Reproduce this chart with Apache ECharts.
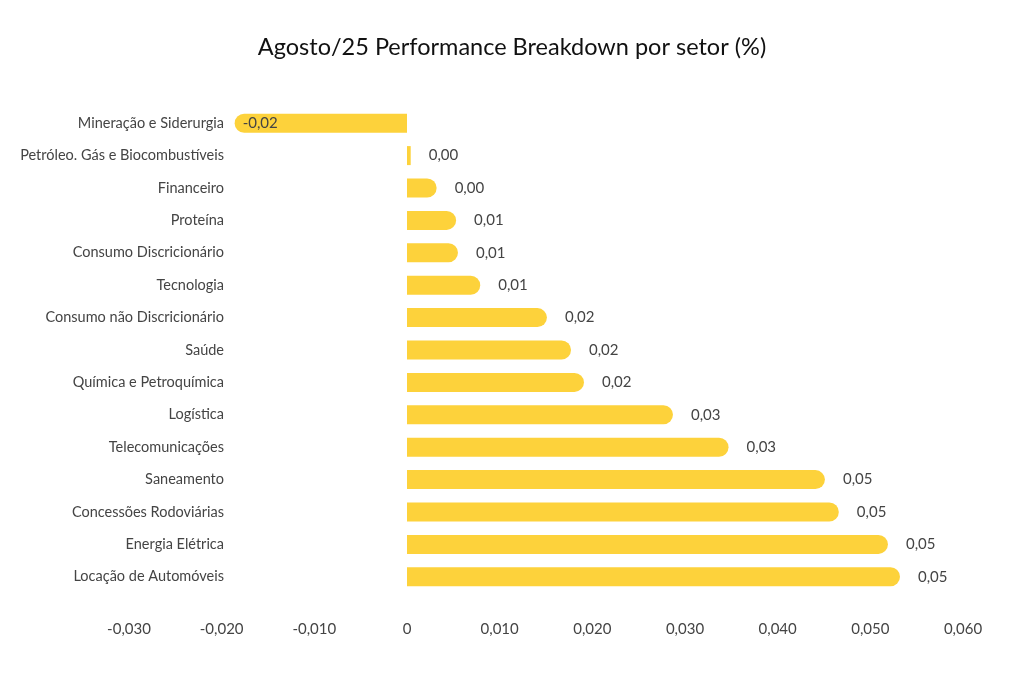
<!DOCTYPE html>
<html>
<head>
<meta charset="utf-8">
<script src="https://cdn.jsdelivr.net/npm/echarts@6/dist/echarts.min.js"></script>
<style>html,body{margin:0;padding:0;background:#fff;}#c{width:1024px;height:686px;}</style>
</head>
<body>
<div id="c"></div>
<script>
const categories = [
  "Mineração e Siderurgia",
  "Petróleo. Gás e Biocombustíveis",
  "Financeiro",
  "Proteína",
  "Consumo Discricionário",
  "Tecnologia",
  "Consumo não Discricionário",
  "Saúde",
  "Química e Petroquímica",
  "Logística",
  "Telecomunicações",
  "Saneamento",
  "Concessões Rodoviárias",
  "Energia Elétrica",
  "Locação de Automóveis"
];
const values = [-0.0186, 0.0004, 0.0032, 0.0053, 0.0055, 0.0079, 0.0151, 0.0177, 0.0191, 0.0287, 0.0347, 0.0451, 0.0466, 0.0519, 0.0532];
const axisMin = -0.03, axisMax = 0.06, axisStep = 0.01;
const titleText = "Agosto/25 Performance Breakdown por setor (%)";

const FONT = "Lato";
const fmt2 = v => v.toFixed(2).replace('.', ',');
const fmtAxis = v => Math.abs(v) < 1e-9 ? '0' : v.toFixed(3).replace('.', ',');

const data = values.map(v => {
  const neg = v < 0;
  return {
    value: v,
    itemStyle: { borderRadius: neg ? [10, 0, 0, 10] : (v < 0.002 ? 0 : [0, 10, 10, 0]) },
    label: neg ? { position: 'insideLeft', distance: 8 } : { position: 'right', distance: 18 }
  };
});

const chart = echarts.init(document.getElementById('c'));
chart.setOption({
  backgroundColor: '#ffffff',
  animation: false,
  title: {
    text: titleText, left: 'center', top: 30,
    textStyle: { fontFamily: FONT, fontSize: 23.5, fontWeight: 'normal', color: '#111' }
  },
  grid: { left: 129, right: 61, top: 107, bottom: 93, containLabel: false },
  xAxis: {
    type: 'value', min: axisMin, max: axisMax, interval: axisStep,
    axisLine: { show: false }, axisTick: { show: false }, splitLine: { show: false },
    axisLabel: { formatter: fmtAxis, margin: 29, fontFamily: FONT, fontSize: 15, color: '#444' }
  },
  yAxis: {
    type: 'category', data: categories, inverse: true,
    axisLine: { show: false }, axisTick: { show: false },
    axisLabel: { margin: -95, fontFamily: FONT, fontSize: 14.5, color: '#444' }
  },
  series: [{
    type: 'bar', data: data, barWidth: 19,
    itemStyle: { color: '#FDD23B' },
    label: { show: true, formatter: p => fmt2(p.value), fontFamily: FONT, fontSize: 15, color: '#444' }
  }]
});
</script>
</body>
</html>
